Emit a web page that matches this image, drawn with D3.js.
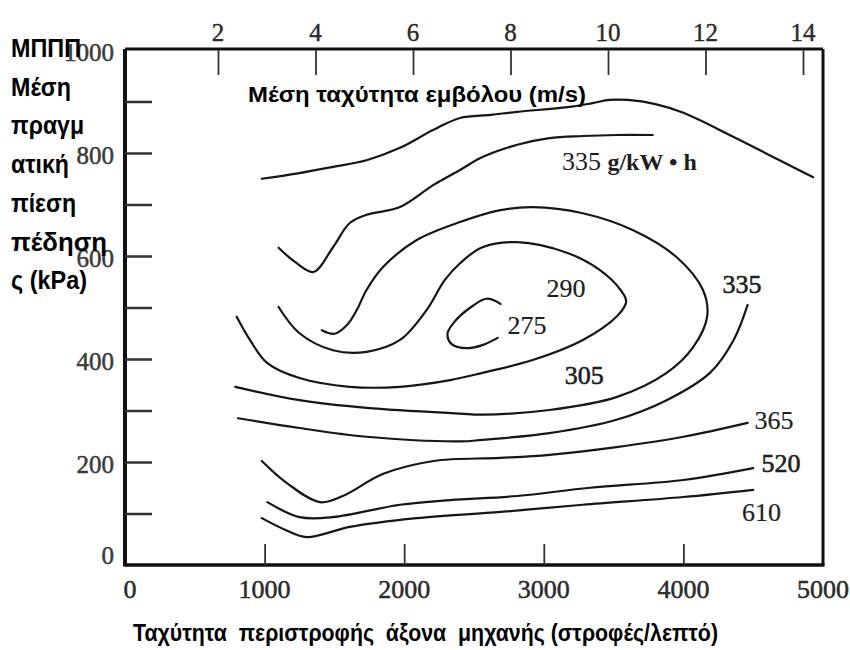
<!DOCTYPE html>
<html><head><meta charset="utf-8">
<script src="https://cdn.jsdelivr.net/npm/d3@7"></script>
<style>body{margin:0;background:#fff}</style>
</head><body>
<svg id="chart" width="850" height="650"></svg>
<script>
// ---------- data ----------
const rpmTicks = [0, 1000, 2000, 3000, 4000, 5000];
const bmepLabelTicks = [0, 200, 400, 600, 800, 1000];
const bmepMinorTicks = [100, 200, 300, 400, 500, 600, 700, 800, 900];
const pistonTicks = [2, 4, 6, 8, 10, 12, 14];

// curves: [rpm, bmep kPa]
const fullLoad = [[980,750],[1250,761],[1490,773],[1730,786],[1970,810],[2210,845],[2400,868],[2620,874],[2810,880],[3170,889],[3350,897],[3470,903],[3600,903],[3800,895],[4000,878],[4360,831],[4710,783],[4930,753]];
const bsfc335Upper = [[1100,616],[1220,588],[1350,569],[1490,617],[1610,664],[1730,680],[1970,695],[2210,738],[2400,767],[2560,792],[2810,816],[3040,829],[3280,833],[3520,835],[3780,835]];
const bsfc335Lower = [[4460,505],[4360,437],[4190,373],[3880,320],[3520,282],[3040,256],[2560,243],[2400,240],[1730,249],[1250,266],[810,285]];
const bsfc305 = [[1410,456],[1500,449],[1590,466],[1660,495],[1730,534],[1850,579],[2090,631],[2400,666],[2690,689],[2920,695],[3280,683],[3640,650],[3950,598],[4140,534],[4170,482],[4070,423],[3880,373],[3520,326],[3040,301],[2560,292],[2400,294],[1730,305],[1250,320],[790,346]];
const bsfc290 = [[1100,501],[1250,450],[1490,417],[1730,414],[1970,437],[2160,495],[2290,553],[2400,586],[2560,617],[2810,627],[3170,606],[3400,573],[3550,534],[3590,511],[3520,482],[3280,437],[2920,398],[2560,373],[2330,359],[1970,346],[1610,346],[1250,363],[1020,392],[895,437],[800,482]];
const bsfc275 = [[2690,507],[2590,517],[2470,499],[2360,472],[2310,449],[2340,429],[2450,421],[2560,427],[2670,441]];
const bsfc365 = [[980,202],[1160,159],[1397,122],[1560,134],[1850,177],[2210,202],[2690,208],[3040,214],[3520,229],[4000,249],[4460,276]];
const bsfc520 = [[1020,122],[1250,93],[1490,93],[1970,117],[2330,126],[2810,134],[3330,150],[4000,165],[4500,188]];
const bsfc610 = [[980,91],[1150,68],[1300,54],[1610,74],[2090,91],[2690,103],[3280,117],[4000,132],[4500,146]];
const curves = [fullLoad, bsfc335Upper, bsfc335Lower, bsfc305, bsfc290, bsfc275, bsfc365, bsfc520, bsfc610];

// contour labels: text, rpm, bmep (kPa) of label centre-left
const contourLabels = [
  {text: "290", rpm: 3020, kpa: 538},
  {text: "275", rpm: 2740, kpa: 466},
  {text: "305", rpm: 3150, kpa: 369},
  {text: "335", rpm: 4280, kpa: 545},
  {text: "365", rpm: 4510, kpa: 282},
  {text: "520", rpm: 4560, kpa: 198},
  {text: "610", rpm: 4420, kpa: 103}
];
const unitLabel = {num: "335 ", unit: "g/kW \u2022 h", rpm: 3130, kpa: 785};

const yTitleLines = ["ΜΠΠΠ", "Μέση", "πραγμ", "ατική", "πίεση", "πέδηση", "ς (kPa)"];
const yTitleWidths = [70, 60, 73, 58, 65, 96, 76];
const topTitle = "Μέση ταχύτητα εμβόλου (m/s)";
const bottomTitle = "Ταχύτητα  περιστροφής  άξονα  μηχανής (στροφές/λεπτό)";

// ---------- drawing ----------
const svg = d3.select("#chart");
const L = 125, R = 823, T = 50, B = 565;
const x = d3.scaleLinear().domain([0, 5000]).range([L, R]);
const y = d3.scaleLinear().domain([0, 1000]).range([B, T]);
const xTop = d3.scaleLinear().domain([2, 14]).range([218, 803]);

const line = d3.line().x(d => x(d[0])).y(d => y(d[1])).curve(d3.curveCatmullRom.alpha(0.5));

svg.append("g").selectAll("path").data(curves).join("path")
  .attr("d", line).attr("fill", "none").attr("stroke", "#161616")
  .attr("stroke-width", 2.2).attr("stroke-linecap", "round").attr("stroke-linejoin", "round");

// frame
const frame = svg.append("g").attr("stroke", "#111").attr("fill", "none");
frame.append("line").attr("x1", L).attr("x2", L).attr("y1", T - 1).attr("y2", B + 1.5).attr("stroke-width", 4);
frame.append("line").attr("x1", L).attr("x2", R).attr("y1", T - 1).attr("y2", T - 1).attr("stroke-width", 3);
frame.append("line").attr("x1", L).attr("x2", R + 1.5).attr("y1", B).attr("y2", B).attr("stroke-width", 3.5);
frame.append("line").attr("x1", R).attr("x2", R).attr("y1", T - 1).attr("y2", B).attr("stroke-width", 3);

// left axis (ticks inward)
const yAxis = d3.axisRight(y).tickValues(bmepMinorTicks).tickSize(27).tickFormat("");
const gy = svg.append("g").attr("transform", `translate(${L},0)`).call(yAxis);
gy.select(".domain").remove();
gy.selectAll(".tick line").attr("stroke", "#333").attr("stroke-width", 2.5);

// bottom axis (ticks upward)
const xAxis = d3.axisTop(x).tickValues(rpmTicks.slice(1, 5)).tickSize(21).tickFormat("");
const gx = svg.append("g").attr("transform", `translate(0,${B})`).call(xAxis);
gx.select(".domain").remove();
gx.selectAll(".tick line").attr("stroke", "#333").attr("stroke-width", 1.8);

// top axis (ticks downward)
const topAxis = d3.axisBottom(xTop).tickValues(pistonTicks).tickSize(25).tickFormat("");
const gt = svg.append("g").attr("transform", `translate(0,${T})`).call(topAxis);
gt.select(".domain").remove();
gt.selectAll(".tick line").attr("stroke", "#333").attr("stroke-width", 1.8);

// tick labels
const serif = "'Liberation Serif', 'DejaVu Serif', serif";
svg.append("g").selectAll("text").data(rpmTicks).join("text")
  .attr("x", d => x(d) + (d === 0 ? 5 : 0)).attr("y", 598)
  .attr("text-anchor", "middle").attr("font-family", serif).attr("font-size", 26)
  .attr("fill", "#2a2a2a").attr("stroke", "#2a2a2a").attr("stroke-width", 0.5)
  .text(d => d);
svg.append("g").selectAll("text").data(bmepLabelTicks).join("text")
  .attr("x", 114).attr("y", d => Math.min(y(d) + 2, 555)).attr("dy", "0.35em")
  .attr("text-anchor", "end").attr("font-family", serif).attr("font-size", 25)
  .attr("fill", "#3a3a3a").attr("stroke", "#3a3a3a").attr("stroke-width", 0.5)
  .text(d => d);
svg.append("g").selectAll("text").data(pistonTicks).join("text")
  .attr("x", d => xTop(d)).attr("y", 41)
  .attr("text-anchor", "middle").attr("font-family", serif).attr("font-size", 25)
  .attr("fill", "#2a2a2a").attr("stroke", "#2a2a2a").attr("stroke-width", 0.4)
  .text(d => d);

// contour labels
svg.append("g").selectAll("text").data(contourLabels).join("text")
  .attr("x", d => x(d.rpm)).attr("y", d => y(d.kpa)).attr("dy", "0.35em")
  .attr("font-family", serif).attr("font-size", 26).attr("fill", "#1e1e1e")
  .attr("stroke", "#1e1e1e").attr("stroke-width", d => (d.text === "335" || d.text === "305" || d.text === "520") ? 0.6 : 0.2)
  .text(d => d.text);
const ul = svg.append("text").attr("x", x(unitLabel.rpm)).attr("y", y(unitLabel.kpa)).attr("dy", "0.35em")
  .attr("font-family", serif).attr("font-size", 26).attr("fill", "#1e1e1e")
  .attr("xml:space", "preserve").style("white-space", "pre");
ul.append("tspan").text(unitLabel.num);
ul.append("tspan").attr("font-weight", "bold").attr("font-size", 24).text(unitLabel.unit);

// Greek titles (bold sans)
const sans = "'Liberation Sans', Arial, 'DejaVu Sans', sans-serif";
svg.append("g").selectAll("text").data(yTitleLines).join("text")
  .attr("x", 11).attr("y", (d, i) => 57 + i * 38.7)
  .attr("font-family", sans).attr("font-weight", "bold").attr("font-size", 26)
  .attr("fill", "#000")
  .attr("textLength", (d, i) => yTitleWidths[i]).attr("lengthAdjust", "spacingAndGlyphs")
  .text(d => d);

svg.append("text").attr("x", 248).attr("y", 102)
  .attr("font-family", sans).attr("font-weight", "bold").attr("font-size", 22)
  .attr("textLength", 338).attr("lengthAdjust", "spacingAndGlyphs")
  .text(topTitle);

svg.append("text").attr("x", 133).attr("y", 641)
  .attr("font-family", sans).attr("font-weight", "bold").attr("font-size", 24)
  .attr("xml:space", "preserve").style("white-space", "pre")
  .attr("textLength", 585).attr("lengthAdjust", "spacingAndGlyphs")
  .text(bottomTitle);
</script>
</body></html>
